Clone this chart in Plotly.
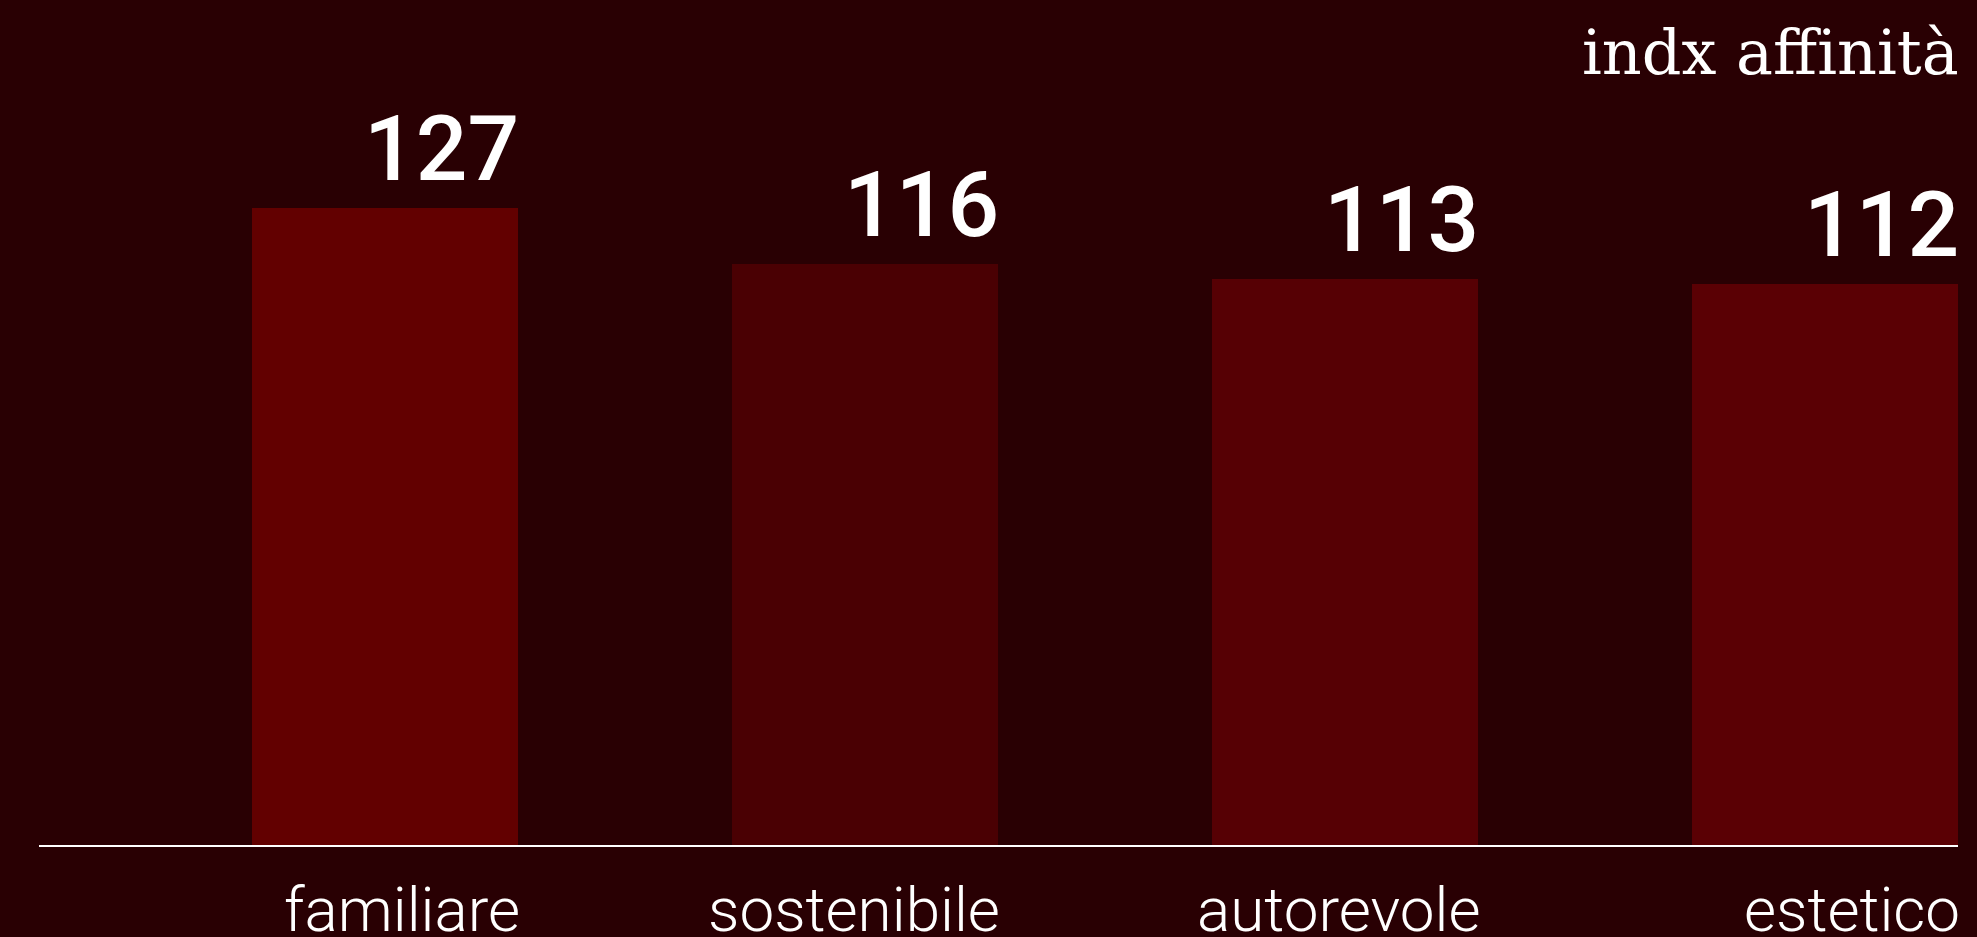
import plotly.graph_objects as go

categories = ["familiare", "sostenibile", "autorevole", "estetico"]
values = [127, 116, 113, 112]
bar_colors = ["#620000", "#4a0003", "#560004", "#5a0004"]
title_text = "indx affinità"

W, H = 1977, 937
bar_width = 0.554
half = bar_width / 2
xpos = list(range(len(categories)))

fig = go.Figure()
fig.add_trace(go.Bar(
    x=xpos, y=values, width=bar_width,
    marker=dict(color=bar_colors, line=dict(width=0)),
    hoverinfo="skip",
))

annotations = []
for i, (c, v) in enumerate(zip(categories, values)):
    annotations.append(dict(
        x=i + half, y=v, xref="x", yref="y", text=str(v), showarrow=False,
        xanchor="right", yanchor="bottom", yshift=4, xshift=3,
        font=dict(family="Roboto", size=91, color="white", weight=500),
    ))
    annotations.append(dict(
        x=i + half, y=0, xref="x", yref="y", text=c, showarrow=False,
        xanchor="right", yanchor="top", yshift=-26, xshift=4,
        font=dict(family="Roboto", size=62, color="white", weight=300),
    ))
annotations.append(dict(
    x=1, y=1, xref="paper", yref="paper", text=title_text, showarrow=False,
    xanchor="right", yanchor="top", xshift=3, yshift=-14,
    font=dict(family="DejaVu Serif", size=62, color="white"),
))

fig.update_layout(
    width=W, height=H,
    margin=dict(l=39, r=W - 1958, t=0, b=H - 845),
    paper_bgcolor="#290003", plot_bgcolor="rgba(0,0,0,0)",
    showlegend=False, bargap=0,
    xaxis=dict(range=[-0.721, 3.277], showgrid=False, zeroline=False,
               showticklabels=False, showline=True, linecolor="white",
               linewidth=2, ticks=""),
    yaxis=dict(range=[0, 845 / 5.012], showgrid=False, zeroline=False,
               showticklabels=False, showline=False),
    annotations=annotations,
)
fig.write_html("out.html", config={"displayModeBar": False})
